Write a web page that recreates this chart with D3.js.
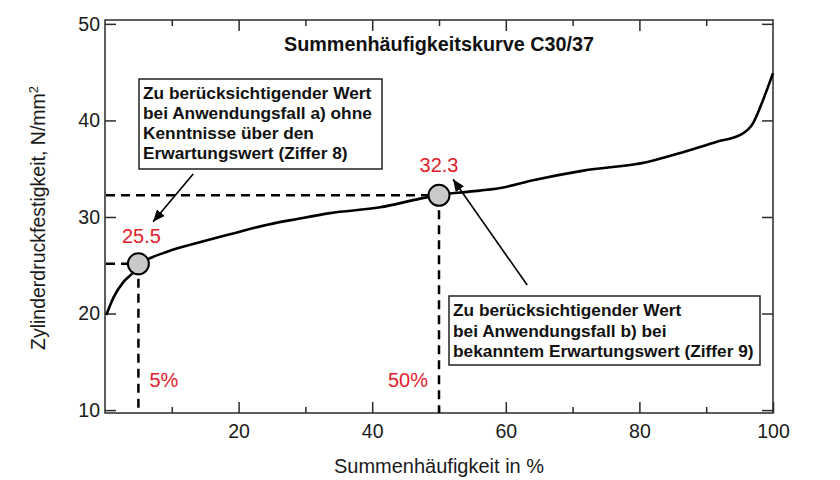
<!DOCTYPE html>
<html>
<head>
<meta charset="utf-8">
<script src="https://cdn.jsdelivr.net/npm/d3@7"></script>
<style>
  html, body { margin: 0; padding: 0; background: #fff; }
  svg { display: block; font-family: "Liberation Sans", Arial, sans-serif; }
</style>
</head>
<body>
<svg id="chart" width="840" height="480"></svg>
<script>
// ---- data ----
const curveX = [0.2, 1.3, 2.8, 4.3, 5.2, 7, 9.3, 14.3, 19.2, 24.3, 28.8, 33.7, 41.2, 47.2, 50.2, 54.2, 59.2, 64.1, 71.6, 81.2, 86.5, 91.6, 95.1, 97.0, 98.5, 100];
const curveY = [19.85, 21.7, 23.3, 24.3, 25.1, 25.8, 26.4, 27.4, 28.3, 29.2, 29.8, 30.4, 31.0, 31.9, 32.3, 32.6, 33.0, 33.8, 34.8, 35.7, 36.7, 37.8, 38.5, 39.7, 42.1, 44.9];
const markerX = [5, 50];
const markerY = [25.15, 32.25];
const markerLabels = ["25.5", "32.3"];
const percentLabels = ["5%", "50%"];
const xMajorTicks = [20, 40, 60, 80, 100];
const xMinorTicks = [10, 30, 50, 70, 90];
const yTicks = [10, 20, 30, 40, 50];
const titleText = "Summenhäufigkeitskurve C30/37";
const xTitle = "Summenhäufigkeit in %";
const yTitleMain = "Zylinderdruckfestigkeit, N/mm";
const yTitleSup = "2";
const box1Lines = ["Zu berücksichtigender Wert", "bei Anwendungsfall a) ohne", "Kenntnisse über den", "Erwartungswert (Ziffer 8)"];
const box2Lines = ["Zu berücksichtigender Wert", "bei Anwendungsfall b) bei", "bekanntem Erwartungswert (Ziffer 9)"];
// arrows in data coordinates: [fromX, fromY, toX, toY]
const arrow1 = [13.2, 34.45, 7.2, 29.5];
const arrow2 = [63.2, 22.95, 52.1, 33.9];

// ---- layout ----
const svg = d3.select("#chart");
const x = d3.scaleLinear().domain([0, 100]).range([105, 773]);
const y = d3.scaleLinear().domain([9.7, 50.4]).range([413, 20]);
const red = "#e3202a";
const axisColor = "#2a2a2a";

const defs = svg.append("defs");
defs.append("marker").attr("id", "arrow").attr("viewBox", "0 0 12 10")
  .attr("refX", 12).attr("refY", 5).attr("markerWidth", 12).attr("markerHeight", 10)
  .attr("markerUnits", "userSpaceOnUse").attr("orient", "auto")
  .append("path").attr("d", "M0,0 L12,5 L0,10 Z").attr("fill", "#000");

// frame
svg.append("rect").attr("x", x(0)).attr("y", y(50.4))
  .attr("width", x(100) - x(0)).attr("height", y(9.7) - y(50.4))
  .attr("fill", "none").attr("stroke", axisColor).attr("stroke-width", 1.5);

function styleAxis(g) {
  g.select(".domain").remove();
  g.selectAll(".tick line").attr("stroke", axisColor).attr("stroke-width", 1.5);
  g.selectAll(".tick text").attr("fill", "#1a1a1a").style("font-size", "19.5px");
}

svg.append("g").attr("transform", `translate(0,${y(9.7)})`)
  .call(d3.axisBottom(x).tickValues(xMajorTicks).tickSize(-11).tickPadding(11).tickFormat(d3.format("d")))
  .call(styleAxis);
svg.append("g").attr("transform", `translate(0,${y(9.7)})`)
  .call(d3.axisBottom(x).tickValues(xMinorTicks).tickSize(-6).tickFormat(""))
  .call(styleAxis);
svg.append("g").attr("transform", `translate(0,${y(50.4)})`)
  .call(d3.axisTop(x).tickValues(xMajorTicks.filter(d => d < 100)).tickSize(-11).tickFormat(""))
  .call(styleAxis);
svg.append("g").attr("transform", `translate(0,${y(50.4)})`)
  .call(d3.axisTop(x).tickValues(xMinorTicks).tickSize(-6).tickFormat(""))
  .call(styleAxis);
svg.append("g").attr("transform", `translate(${x(0)},0)`)
  .call(d3.axisLeft(y).tickValues(yTicks).tickSize(-11).tickPadding(5).tickFormat(d3.format("d")))
  .call(styleAxis);
svg.append("g").attr("transform", `translate(${x(100)},0)`)
  .call(d3.axisRight(y).tickValues(yTicks).tickSize(-11).tickFormat(""))
  .call(styleAxis);

// axis titles
svg.append("text").attr("x", 439).attr("y", 473).attr("text-anchor", "middle")
  .style("font-size", "20px").attr("fill", "#1a1a1a").text(xTitle);
const yt = svg.append("text").attr("transform", "translate(45,218) rotate(-90)")
  .attr("text-anchor", "middle").style("font-size", "19.5px").attr("fill", "#1a1a1a");
yt.append("tspan").text(yTitleMain);
yt.append("tspan").attr("dy", "-0.55em").style("font-size", "13px").text(yTitleSup);

// title
svg.append("text").attr("x", 439).attr("y", 51).attr("text-anchor", "middle")
  .style("font-size", "19.8px").style("font-weight", "bold").attr("fill", "#111").text(titleText);

// dashed guide lines
const dash = svg.append("g").attr("stroke", "#000").attr("stroke-width", 2.5)
  .attr("stroke-dasharray", "9,6").attr("fill", "none");
markerX.forEach((mx, i) => {
  dash.append("line").attr("x1", x(0) + 1).attr("x2", x(mx)).attr("y1", y(markerY[i])).attr("y2", y(markerY[i]));
  dash.append("line").attr("x1", x(mx)).attr("x2", x(mx)).attr("y1", y(markerY[i])).attr("y2", y(9.7));
});

// curve
const pts = curveX.map((d, i) => [d, curveY[i]]);
svg.append("path").datum(pts)
  .attr("d", d3.line().x(d => x(d[0])).y(d => y(d[1])).curve(d3.curveMonotoneX))
  .attr("fill", "none").attr("stroke", "#000").attr("stroke-width", 2.6)
  .attr("stroke-linejoin", "round");

// markers
svg.selectAll("circle.m").data(markerX).join("circle").attr("class", "m")
  .attr("cx", d => x(d)).attr("cy", (d, i) => y(markerY[i])).attr("r", 10.5)
  .attr("fill", "#c9c9c9").attr("stroke", "#000").attr("stroke-width", 2);

// red labels
svg.append("text").attr("x", x(markerX[0]) + 3).attr("y", 243).attr("text-anchor", "middle")
  .style("font-size", "20px").attr("fill", red).text(markerLabels[0]);
svg.append("text").attr("x", x(markerX[1])).attr("y", 172).attr("text-anchor", "middle")
  .style("font-size", "20px").attr("fill", red).text(markerLabels[1]);
svg.append("text").attr("x", x(markerX[0]) + 11).attr("y", 387).attr("text-anchor", "start")
  .style("font-size", "20px").attr("fill", red).text(percentLabels[0]);
svg.append("text").attr("x", x(markerX[1]) - 11).attr("y", 387).attr("text-anchor", "end")
  .style("font-size", "20px").attr("fill", red).text(percentLabels[1]);

// arrows
[arrow1, arrow2].forEach(a => {
  svg.append("line").attr("x1", x(a[0])).attr("y1", y(a[1])).attr("x2", x(a[2])).attr("y2", y(a[3]))
    .attr("stroke", "#000").attr("stroke-width", 1.6).attr("marker-end", "url(#arrow)");
});

// annotation boxes
function box(lines, left, top, w, h, tx, base0, lh) {
  svg.append("rect").attr("x", left).attr("y", top).attr("width", w).attr("height", h)
    .attr("fill", "#fff").attr("stroke", "#222").attr("stroke-width", 1.5);
  const t = svg.append("text").style("font-size", "17.3px").style("font-weight", "bold").attr("fill", "#111");
  lines.forEach((l, i) => t.append("tspan").attr("x", tx).attr("y", base0 + i * lh).text(l));
}
box(box1Lines, 139, 79, 243, 90, 143, 99, 20);
box(box2Lines, 449, 296, 311, 69, 453, 316, 20.5);
</script>
</body>
</html>
